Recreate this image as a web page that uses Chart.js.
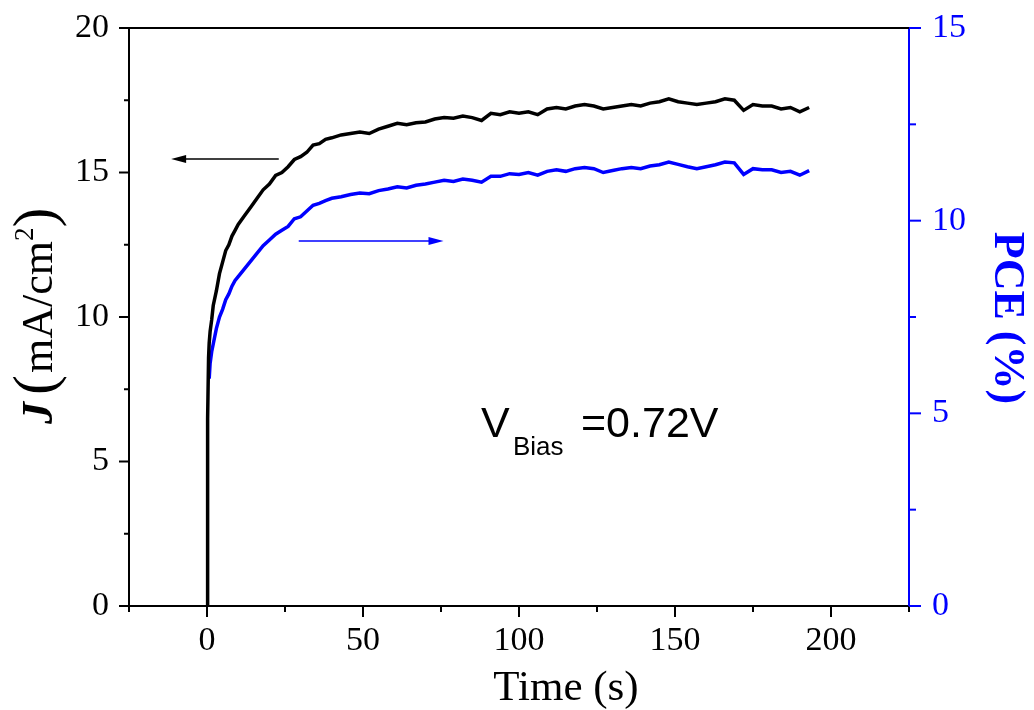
<!DOCTYPE html>
<html>
<head>
<meta charset="utf-8">
<title>J and PCE vs time</title>
<script src="https://cdn.jsdelivr.net/npm/chart.js@4/dist/chart.umd.min.js"></script>
<style>
  html, body { margin: 0; padding: 0; background: #fff; }
  canvas { display: block; }
</style>
</head>
<body>
<canvas id="chart" width="1034" height="710"></canvas>
<script>
// time (s), shared by both traces
const time = [0, 0.1, 0.3, 0.5, 0.7, 1, 1.5, 2, 3, 4, 5, 6, 7, 8, 9, 10,
  12, 14, 16, 18, 20, 22, 24, 26, 28, 30, 32, 34, 36, 38, 40,
  43, 46, 49, 52, 55, 58, 61, 64, 67, 70, 73, 76, 79, 82, 85, 88, 91, 94, 97, 100,
  103, 106, 109, 112, 115, 118, 121, 124, 127, 130, 133, 136, 139, 142, 145, 148,
  151, 154, 157, 160, 163, 166, 169, 172, 175, 178, 181, 184, 187, 190, 193];

// current density J (mA/cm2), left axis
const currentJ = [0, 0.9, 6.5, 8.6, 9.1, 9.5, 9.9, 10.4, 10.9, 11.5, 11.9, 12.3, 12.5, 12.8, 13.0, 13.2,
  13.5, 13.8, 14.1, 14.4, 14.6, 14.9, 15.0, 15.2, 15.45, 15.55, 15.7, 15.95, 16.0, 16.15, 16.2,
  16.3, 16.35, 16.4, 16.35, 16.5, 16.6, 16.7, 16.65, 16.72, 16.75, 16.85, 16.9, 16.88, 16.95, 16.9, 16.8, 17.05, 17.0, 17.1, 17.05,
  17.1, 17.0, 17.2, 17.25, 17.2, 17.3, 17.35, 17.3, 17.2, 17.25, 17.3, 17.35, 17.3, 17.4, 17.45, 17.55,
  17.45, 17.4, 17.35, 17.4, 17.45, 17.55, 17.5, 17.15, 17.35, 17.3, 17.3, 17.2, 17.25, 17.1, 17.25];

// power conversion efficiency (%), right axis
const pce = [null, null, null, null, 5.9, 6.3, 6.6, 6.8, 7.2, 7.5, 7.7, 7.95, 8.1, 8.3, 8.45, 8.55,
  8.75, 8.95, 9.15, 9.35, 9.5, 9.65, 9.75, 9.85, 10.05, 10.1, 10.25, 10.4, 10.45, 10.52, 10.58,
  10.62, 10.68, 10.72, 10.7, 10.78, 10.82, 10.88, 10.85, 10.92, 10.95, 11.0, 11.05, 11.02, 11.08, 11.05, 11.0, 11.15, 11.15, 11.22, 11.2,
  11.25, 11.18, 11.28, 11.32, 11.28, 11.35, 11.38, 11.35, 11.25, 11.3, 11.35, 11.38, 11.35, 11.42, 11.45, 11.52,
  11.46, 11.4, 11.35, 11.4, 11.45, 11.52, 11.5, 11.2, 11.35, 11.32, 11.32, 11.25, 11.28, 11.18, 11.3];

// axis ticks
const xTicks = [-25, 0, 25, 50, 75, 100, 125, 150, 175, 200, 225];
const xLabels = [0, 50, 100, 150, 200];
const yTicks = [0, 2.5, 5, 7.5, 10, 12.5, 15, 17.5, 20];
const yLabels = [0, 5, 10, 15, 20];
const y1Ticks = [0, 2.5, 5, 7.5, 10, 12.5, 15];
const y1Labels = [0, 5, 10, 15];

const BLUE = '#0000ff';
const SERIF = '"Liberation Serif", "DejaVu Serif", serif';
const SANS = '"Liberation Sans", Arial, sans-serif';

function arrow(ctx, x1, y1, x2, y2, color) {
  ctx.strokeStyle = color;
  ctx.fillStyle = color;
  ctx.lineWidth = 1.5;
  const dir = Math.sign(x2 - x1);
  ctx.beginPath();
  ctx.moveTo(x1, y1);
  ctx.lineTo(x2 - dir * 10, y2);
  ctx.stroke();
  ctx.beginPath();
  ctx.moveTo(x2, y2);
  ctx.lineTo(x2 - dir * 15, y2 - 4);
  ctx.lineTo(x2 - dir * 15, y2 + 4);
  ctx.closePath();
  ctx.fill();
}

// fixed axis boxes so the plot area sits where the original one does
function fixWidth(w) {
  return s => {
    s.width = w;
    s.paddingTop = 0;
    s.paddingBottom = 0;
  };
}

const decorations = {
  id: 'decorations',
  afterDraw(chart) {
    const ctx = chart.ctx;
    const area = chart.chartArea;
    const x = chart.scales.x, y = chart.scales.y, y1 = chart.scales.y1;
    ctx.save();

    // top frame line
    ctx.strokeStyle = '#000';
    ctx.lineWidth = 2;
    ctx.beginPath();
    ctx.moveTo(area.left, area.top);
    ctx.lineTo(area.right, area.top);
    ctx.stroke();

    // tick marks
    xTicks.forEach(v => {
      const px = x.getPixelForValue(v);
      const len = xLabels.includes(v) ? 11 : 6;
      ctx.beginPath();
      ctx.moveTo(px, area.bottom);
      ctx.lineTo(px, area.bottom + len);
      ctx.stroke();
    });
    yTicks.forEach(v => {
      const py = y.getPixelForValue(v);
      const len = yLabels.includes(v) ? 10 : 5;
      ctx.beginPath();
      ctx.moveTo(area.left, py);
      ctx.lineTo(area.left - len, py);
      ctx.stroke();
    });
    ctx.strokeStyle = BLUE;
    y1Ticks.forEach(v => {
      const py = y1.getPixelForValue(v);
      const len = y1Labels.includes(v) ? 12 : 7;
      ctx.beginPath();
      ctx.moveTo(area.right, py);
      ctx.lineTo(area.right + len, py);
      ctx.stroke();
    });

    // arrows pointing to the axis of each trace
    arrow(ctx, x.getPixelForValue(23), y.getPixelForValue(15.47),
      x.getPixelForValue(-11.5), y.getPixelForValue(15.47), '#000');
    arrow(ctx, x.getPixelForValue(29.4), y1.getPixelForValue(9.47),
      x.getPixelForValue(75.8), y1.getPixelForValue(9.47), BLUE);

    // x title
    ctx.fillStyle = '#000';
    ctx.textBaseline = 'alphabetic';
    ctx.textAlign = 'center';
    ctx.font = '43px ' + SERIF;
    ctx.fillText('Time (s)', 566, 700);

    // left title: J (mA/cm2), rotated
    ctx.save();
    ctx.translate(52, 424);
    ctx.rotate(-Math.PI / 2);
    ctx.textAlign = 'left';
    let pos = 0;
    ctx.font = 'bold italic 44px ' + SERIF;
    ctx.fillText('J', pos, 0);
    pos += ctx.measureText('J').width + 7;
    ctx.font = '60px ' + SERIF;
    ctx.fillText('(', pos, 2);
    pos += ctx.measureText('(').width + 2;
    ctx.font = '44px ' + SERIF;
    ctx.fillText('mA/cm', pos, 0);
    pos += ctx.measureText('mA/cm').width;
    ctx.font = '27px ' + SERIF;
    ctx.fillText('2', pos, -19);
    pos += ctx.measureText('2').width;
    ctx.font = '60px ' + SERIF;
    ctx.fillText(')', pos, 2);
    ctx.restore();

    // right title: PCE (%), rotated
    ctx.save();
    ctx.translate(995, 318);
    ctx.rotate(Math.PI / 2);
    ctx.textAlign = 'center';
    ctx.fillStyle = BLUE;
    ctx.font = 'bold 44px ' + SERIF;
    ctx.fillText('PCE (%)', 0, 0);
    ctx.restore();

    // bias annotation
    ctx.fillStyle = '#000';
    ctx.textAlign = 'left';
    ctx.font = '43px ' + SANS;
    ctx.fillText('V', 481, 437);
    ctx.fillText('=0.72V', 581, 437);
    ctx.font = '26px ' + SANS;
    ctx.fillText('Bias', 513, 455);

    ctx.restore();
  }
};

const config = {
  type: 'line',
  data: {
    datasets: [{
      label: 'J',
      data: time.map((t, i) => ({ x: t, y: currentJ[i] })),
      borderColor: '#000',
      borderWidth: 3.5,
      pointRadius: 0,
      tension: 0,
      yAxisID: 'y'
    }, {
      label: 'PCE',
      data: time.map((t, i) => ({ x: t, y: pce[i] })),
      borderColor: BLUE,
      borderWidth: 3.5,
      pointRadius: 0,
      tension: 0,
      spanGaps: false,
      yAxisID: 'y1'
    }]
  },
  options: {
    responsive: false,
    animation: false,
    layout: { padding: { top: 28, left: 0, right: 0, bottom: 0 } },
    plugins: {
      legend: { display: false },
      tooltip: { enabled: false }
    },
    scales: {
      x: {
        type: 'linear',
        min: -25,
        max: 225,
        afterFit: s => { s.height = 104; s.paddingLeft = 0; s.paddingRight = 0; },
        afterBuildTicks: s => { s.ticks = xTicks.map(v => ({ value: v })); },
        grid: { display: false, drawTicks: false },
        border: { display: true, color: '#000', width: 2 },
        ticks: {
          autoSkip: false,
          maxRotation: 0,
          padding: 15,
          color: '#000',
          font: { family: SERIF, size: 34 },
          callback: v => xLabels.includes(v) ? String(v) : ''
        }
      },
      y: {
        position: 'left',
        min: 0,
        max: 20,
        afterFit: fixWidth(129),
        afterBuildTicks: s => { s.ticks = yLabels.map(v => ({ value: v })); },
        grid: { display: false, drawTicks: false },
        border: { display: true, color: '#000', width: 2 },
        ticks: {
          padding: 20,
          color: '#000',
          font: { family: SERIF, size: 34 }
        }
      },
      y1: {
        position: 'right',
        min: 0,
        max: 15,
        afterFit: fixWidth(125),
        afterBuildTicks: s => { s.ticks = y1Labels.map(v => ({ value: v })); },
        grid: { display: false, drawTicks: false },
        border: { display: true, color: BLUE, width: 2 },
        ticks: {
          padding: 23,
          color: BLUE,
          font: { family: SERIF, size: 34 }
        }
      }
    }
  },
  plugins: [decorations]
};

new Chart(document.getElementById('chart'), config);
</script>
</body>
</html>
